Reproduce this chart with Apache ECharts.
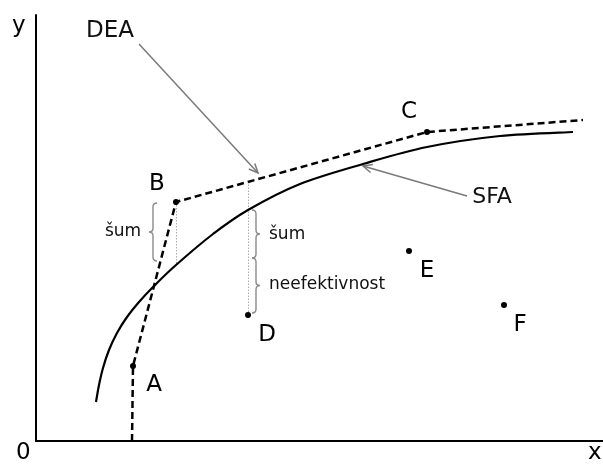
<!DOCTYPE html>
<html>
<head>
<meta charset="utf-8">
<script src="https://cdn.jsdelivr.net/npm/echarts@6/dist/echarts.min.js"></script>
<style>
  html, body { margin: 0; padding: 0; background: #fff; }
  #chart { width: 603px; height: 465px; }
</style>
</head>
<body>
<div id="chart"></div>
<script>
// Decision-making units
const unitNames = ['A', 'B', 'C', 'D', 'E', 'F'];
const unitX = [97, 140, 391, 212, 373, 468];
const unitY = [75, 239, 309, 126, 190, 136];

// DEA frontier (piecewise linear envelope through efficient units)
const deaX = [96, 97, 140, 391, 547];
const deaY = [0, 75, 239, 309, 321];

// SFA frontier (smooth production function)
const sfaX = [60, 63, 67, 73, 81, 91, 103, 118, 140, 177, 212, 264, 327, 391, 464, 537];
const sfaY = [39, 56, 73, 91, 108, 124, 139, 155, 176, 207, 231, 257, 277, 294, 305, 309];

// Vertical guides: from unit to frontier
const guideX = [140, 212];
const guideFrom = [239, 126];
const guideTo = [177, 259];

// Braces: x, lower y, upper y, direction (-1 = "{", +1 = "}")
const braceX = [121, 216, 216];
const braceLow = [180, 183, 128];
const braceHigh = [238, 231, 183];
const braceDir = [-1, 1, 1];

// Pointer arrows: from label towards frontier
const arrowFrom = [[103, 397], [431, 245]];
const arrowTo = [[222, 268], [327, 275]];

// Annotation texts
const noteTexts = ['DEA', 'SFA', 'šum', 'šum', 'neefektivnost'];
const noteX = [74, 456, 87, 233, 233];
const noteY = [410, 244, 209, 206, 156];

const FONT = '"DejaVu Sans", sans-serif';
const labelOffsets = [[21, 19], [-19, -18], [-18, -20], [19, 20], [18, 20], [16, 20]];
const noteStyle = [
  { size: 23, align: 'center' },
  { size: 22, align: 'center' },
  { size: 17, align: 'center' },
  { size: 17, align: 'left' },
  { size: 17, align: 'left' }
];

const chart = echarts.init(document.getElementById('chart'), null, { renderer: 'canvas' });

const braceData = braceX.map((x, i) => [x, braceLow[i], braceHigh[i], braceDir[i]]);
const arrowData = arrowFrom.map((p, i) => [p[0], p[1], arrowTo[i][0], arrowTo[i][1]]);
const noteData = noteTexts.map((t, i) => [noteX[i], noteY[i], i]);
const sfaData = sfaX.map((x, i) => [x, sfaY[i]]);

// Catmull-Rom spline through the SFA points, in pixel space
function splinePath(pts) {
  let d = `M${pts[0][0]},${pts[0][1]}`;
  for (let i = 0; i < pts.length - 1; i++) {
    const p0 = pts[Math.max(0, i - 1)], p1 = pts[i], p2 = pts[i + 1], p3 = pts[Math.min(pts.length - 1, i + 2)];
    const c1 = [p1[0] + (p2[0] - p0[0]) / 6, p1[1] + (p2[1] - p0[1]) / 6];
    const c2 = [p2[0] - (p3[0] - p1[0]) / 6, p2[1] - (p3[1] - p1[1]) / 6];
    d += ` C${c1[0]},${c1[1]} ${c2[0]},${c2[1]} ${p2[0]},${p2[1]}`;
  }
  return d;
}

const option = {
  animation: false,
  backgroundColor: '#fff',
  grid: { left: 36, right: 0, top: 15, bottom: 24 },
  xAxis: {
    type: 'value', min: 0, max: 567,
    axisLine: { show: true, onZero: false, lineStyle: { color: '#000', width: 2 } },
    axisTick: { show: false }, axisLabel: { show: false }, splitLine: { show: false }
  },
  yAxis: {
    type: 'value', min: 0, max: 426,
    axisLine: { show: true, onZero: false, lineStyle: { color: '#000', width: 2 } },
    axisTick: { show: false }, axisLabel: { show: false }, splitLine: { show: false }
  },
  graphic: [
    { type: 'text', left: 12, top: 15, style: { text: 'y', font: '23px ' + FONT, fill: '#000' } },
    { type: 'text', left: 16, top: 442, style: { text: '0', font: '23px ' + FONT, fill: '#000' } },
    { type: 'text', left: 588, top: 442, style: { text: 'x', font: '23px ' + FONT, fill: '#000' } }
  ],
  series: [
    {
      name: 'guides',
      type: 'lines',
      coordinateSystem: 'cartesian2d',
      silent: true,
      lineStyle: { color: '#aaa', width: 1, type: [1.5, 1.5], opacity: 1 },
      data: guideX.map((x, i) => ({ coords: [[x, guideFrom[i]], [x, guideTo[i]]] })),
      z: 1
    },
    {
      name: 'SFA',
      type: 'custom',
      silent: true,
      data: sfaData,
      renderItem(params, api) {
        if (params.dataIndex !== 0) return null;
        const pts = sfaData.map(p => api.coord(p));
        return {
          type: 'path',
          shape: { pathData: splinePath(pts) },
          style: { fill: 'none', stroke: '#000', lineWidth: 2.2 }
        };
      },
      z: 3
    },
    {
      name: 'DEA',
      type: 'line',
      data: deaX.map((x, i) => [x, deaY[i]]),
      showSymbol: false,
      lineStyle: { color: '#000', width: 2.5, type: [7, 4] },
      z: 3
    },
    {
      name: 'braces',
      type: 'custom',
      silent: true,
      data: braceData,
      renderItem(params, api) {
        const x = api.value(0);
        const top = api.coord([x, api.value(2)]);
        const bot = api.coord([x, api.value(1)]);
        const dir = api.value(3);
        const w = 8 * dir, h = w / 2, r = 4;
        const x0 = top[0], yT = top[1], yB = bot[1], yM = (yT + yB) / 2;
        const d = `M${x0},${yT} Q${x0 + h},${yT} ${x0 + h},${yT + r} L${x0 + h},${yM - r} ` +
          `Q${x0 + h},${yM} ${x0 + w},${yM} Q${x0 + h},${yM} ${x0 + h},${yM + r} ` +
          `L${x0 + h},${yB - r} Q${x0 + h},${yB} ${x0},${yB}`;
        return { type: 'path', shape: { pathData: d }, style: { fill: 'none', stroke: '#8a8a8a', lineWidth: 1.4 } };
      },
      z: 2
    },
    {
      name: 'arrows',
      type: 'custom',
      silent: true,
      data: arrowData,
      renderItem(params, api) {
        const p1 = api.coord([api.value(0), api.value(1)]);
        const p2 = api.coord([api.value(2), api.value(3)]);
        const ang = Math.atan2(p2[1] - p1[1], p2[0] - p1[0]);
        const L = 10, a = 0.42;
        const h1 = [p2[0] - L * Math.cos(ang - a), p2[1] - L * Math.sin(ang - a)];
        const h2 = [p2[0] - L * Math.cos(ang + a), p2[1] - L * Math.sin(ang + a)];
        const st = { stroke: '#7a7a7a', lineWidth: 1.5, fill: 'none' };
        return {
          type: 'group',
          children: [
            { type: 'line', shape: { x1: p1[0], y1: p1[1], x2: p2[0], y2: p2[1] }, style: st },
            { type: 'polyline', shape: { points: [h1, p2, h2] }, style: st }
          ]
        };
      },
      z: 2
    },
    {
      name: 'notes',
      type: 'custom',
      silent: true,
      data: noteData,
      renderItem(params, api) {
        const p = api.coord([api.value(0), api.value(1)]);
        const s = noteStyle[api.value(2)];
        return {
          type: 'text',
          style: {
            text: noteTexts[api.value(2)], x: p[0], y: p[1],
            font: s.size + 'px ' + FONT, fill: '#111',
            align: s.align, verticalAlign: 'middle'
          }
        };
      },
      z: 4
    },
    {
      name: 'units',
      type: 'scatter',
      symbolSize: 6,
      itemStyle: { color: '#000', opacity: 1 },
      data: unitNames.map((n, i) => ({
        name: n,
        value: [unitX[i], unitY[i]],
        label: { offset: labelOffsets[i] }
      })),
      label: {
        show: true, position: 'inside', formatter: '{b}',
        fontFamily: FONT, fontSize: 23, color: '#000',
        textBorderWidth: 0, textBorderColor: 'transparent'
      },
      z: 5
    }
  ]
};

chart.setOption(option);
</script>
</body>
</html>
